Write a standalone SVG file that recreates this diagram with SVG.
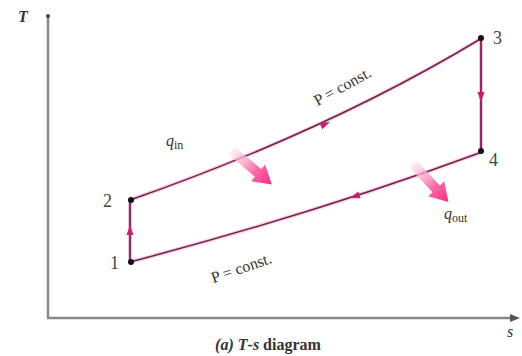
<svg xmlns="http://www.w3.org/2000/svg" width="522" height="356" viewBox="0 0 522 356">
<defs>
<style>
.lbl{font-family:"Liberation Serif","DejaVu Serif",serif;font-size:16px;fill:#333}
.num{font-family:"Liberation Serif","DejaVu Serif",serif;font-size:18px;fill:#444}
.glow{fill:none;stroke:#f7b3d4;stroke-width:4;opacity:0.6}
.proc{fill:none;stroke:#6e2346;stroke-width:1.5}
.vert{fill:none;stroke:#8c2c6c;stroke-width:2.5}
.ah{fill:#c4206e}
.dot{fill:#111}
.axis{stroke:#888;stroke-width:2.5;fill:none}
</style>
<linearGradient id="heat" x1="0" y1="0" x2="1" y2="0">
<stop offset="0" stop-color="#fde3ee" stop-opacity="0.6"/>
<stop offset="0.6" stop-color="#f76aa8"/>
<stop offset="1" stop-color="#ff2a84"/>
</linearGradient>
</defs>
<rect width="522" height="356" fill="#fff"/>
<g id="axes">
<line class="axis" x1="48" y1="16" x2="48" y2="318"/>
<line class="axis" x1="47" y1="318" x2="512" y2="318"/>
<polygon points="520,318 510,314 510,322" fill="#555"/>
<circle cx="48" cy="16" r="2" fill="#444"/>
<text x="18" y="22" class="lbl" font-style="italic" font-weight="bold" font-size="14">T</text>
<text x="507" y="337" class="lbl" font-style="italic" font-size="14">s</text>
</g>
<g id="connectors">
<path class="glow" d="M130,200 Q330,130 482,38"/>
<path class="glow" d="M130,262 Q320,212 482,152"/>
<path class="proc" d="M130,200 Q330,130 482,38"/>
<path class="proc" d="M130,262 Q320,212 482,152"/>
<line class="vert" x1="130" y1="262" x2="130" y2="200"/>
<line class="vert" x1="481" y1="38" x2="481" y2="152"/>
<polygon class="ah" points="0,0 -10,-3.5 -10,3.5" transform="translate(330,122) rotate(-24.7)"/>
<polygon class="ah" points="0,0 -10,-3.5 -10,3.5" transform="translate(350,198) rotate(162)"/>
<polygon class="ah" points="0,0 -10,-3.5 -10,3.5" transform="translate(130,225) rotate(-90)"/>
<polygon class="ah" points="0,0 -10,-3.5 -10,3.5" transform="translate(481,102) rotate(90)"/>
</g>
<g id="node-1"><circle class="dot" cx="131" cy="262" r="3"/><text class="num" x="110" y="269">1</text></g>
<g id="node-2"><circle class="dot" cx="131" cy="200" r="3"/><text class="num" x="103" y="207">2</text></g>
<g id="node-3"><circle class="dot" cx="481" cy="38" r="3"/><text class="num" x="493" y="44">3</text></g>
<g id="node-4"><circle class="dot" cx="481" cy="151" r="3"/><text class="num" x="489" y="166">4</text></g>
<g id="labels">
<text class="lbl" transform="translate(345,91) rotate(-29)" text-anchor="middle" font-size="17">P = const.</text>
<text class="lbl" transform="translate(243,273) rotate(-19)" text-anchor="middle" font-size="17">P = const.</text>
</g>
<g id="q-in">
<polygon fill="url(#heat)" points="0,-5 34,-5 34,-11 52,0 34,11 34,5 0,5" transform="translate(232,151) rotate(40)"/>
<text class="lbl" x="166" y="146" font-style="italic" font-size="19">q<tspan font-size="12" font-style="normal" dy="3">in</tspan></text>
</g>
<g id="q-out">
<polygon fill="url(#heat)" points="0,-5 34,-5 34,-11 52,0 34,11 34,5 0,5" transform="translate(413,164) rotate(47)"/>
<text class="lbl" x="444" y="219" font-style="italic" font-size="19">q<tspan font-size="12" font-style="normal" dy="3">out</tspan></text>
</g>
<g id="caption">
<text class="lbl" x="268" y="350" text-anchor="middle" font-size="18" font-weight="bold" fill="#555"><tspan font-style="italic">(a)</tspan> <tspan font-style="italic">T</tspan>-<tspan font-style="italic">s</tspan> diagram</text>
</g>
</svg>
